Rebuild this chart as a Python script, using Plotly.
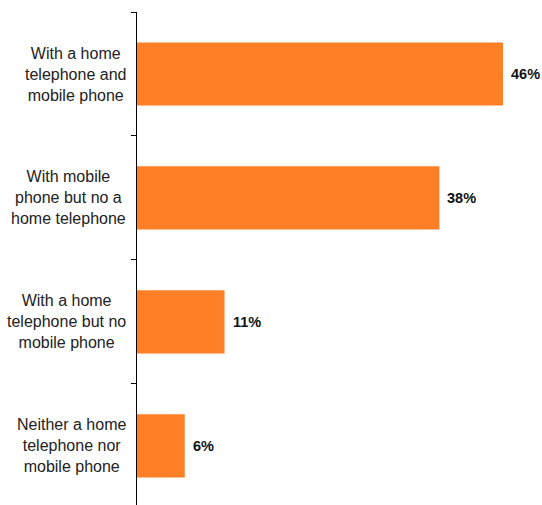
import plotly.graph_objects as go

categories = [
    "With a home<br>telephone and<br>mobile phone",
    "With mobile<br>phone but no a<br>home telephone",
    "With a home<br>telephone but no<br>mobile phone",
    "Neither a home<br>telephone nor<br>mobile phone",
]
values = [46, 38, 11, 6]
value_labels = ["46%", "38%", "11%", "6%"]

FONT = "Liberation Sans, Arial, sans-serif"
ORANGE = "#FF7F27"

fig = go.Figure()
fig.add_trace(go.Bar(
    x=values,
    y=categories,
    orientation="h",
    marker=dict(color=ORANGE, line=dict(width=0)),
    width=0.51,
    hoverinfo="skip",
))

annotations = []
for c, v, lab in zip(categories, values, value_labels):
    annotations.append(dict(
        x=v, y=c, xref="x", yref="y", text="<b>" + lab + "</b>",
        showarrow=False, xanchor="left", xshift=6,
        font=dict(family=FONT, size=14.5, color="#111111"),
    ))
    annotations.append(dict(
        x=0, y=c, xref="paper", yref="y", text=c,
        showarrow=False, xanchor="right", xshift=-9, align="center",
        font=dict(family=FONT, size=16, color="#222222"),
    ))

fig.update_layout(
    width=542, height=505,
    margin=dict(l=137, r=0, t=12, b=0),
    paper_bgcolor="white", plot_bgcolor="white",
    showlegend=False,
    annotations=annotations,
    xaxis=dict(range=[0, 50.9], visible=False, showgrid=False, zeroline=False),
    yaxis=dict(
        type="category",
        categoryorder="array", categoryarray=categories,
        range=[3.476, -0.5],
        showline=True, linecolor="black", linewidth=1,
        ticks="outside", tickson="boundaries", ticklen=5, tickcolor="black",
        showticklabels=False, showgrid=False, zeroline=False,
    ),
)

fig.write_html("out.html")
